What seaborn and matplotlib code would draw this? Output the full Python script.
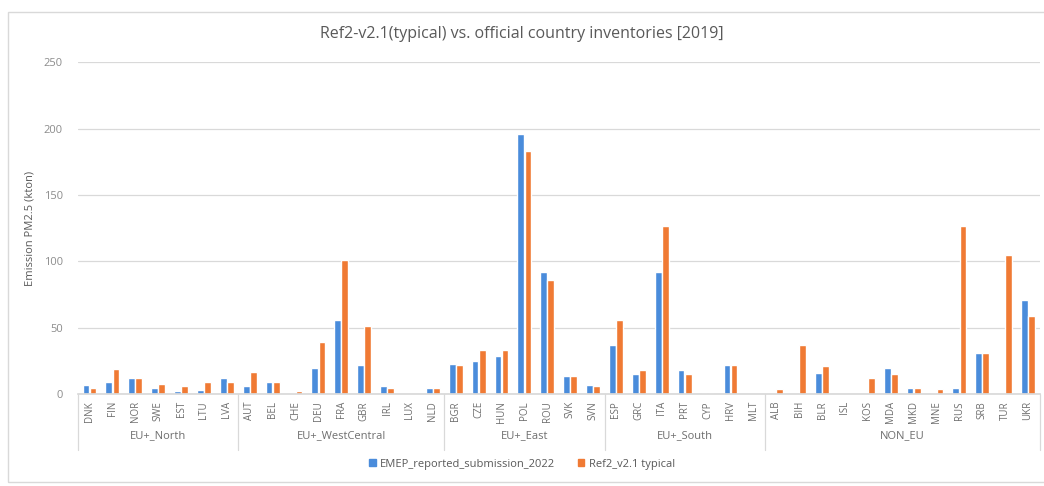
import numpy as np
import pandas as pd
import matplotlib
matplotlib.use("Agg")
import matplotlib.pyplot as plt
import matplotlib.transforms as mtransforms
from matplotlib.patches import Rectangle
import seaborn as sns

groups = ["EU+_North", "EU+_WestCentral", "EU+_East", "EU+_South", "NON_EU"]
group_countries = [
    ["DNK", "FIN", "NOR", "SWE", "EST", "LTU", "LVA"],
    ["AUT", "BEL", "CHE", "DEU", "FRA", "GBR", "IRL", "LUX", "NLD"],
    ["BGR", "CZE", "HUN", "POL", "ROU", "SVK", "SVN"],
    ["ESP", "GRC", "ITA", "PRT", "CYP", "HRV", "MLT"],
    ["ALB", "BIH", "BLR", "ISL", "KOS", "MDA", "MKD", "MNE", "RUS", "SRB", "TUR", "UKR"],
]
emep_reported = [7, 9, 12, 5, 2, 3, 12,
                 6, 9, 1, 20, 56, 22, 6, 0.3, 5,
                 23, 25, 29, 196, 92, 14, 7,
                 37, 15, 92, 18, 0.5, 22, 0.3,
                 0, 0, 16, 0.3, 0, 20, 5, 1, 5, 31, 0, 71]
ref2_typical = [5, 19, 12, 8, 6, 9, 9,
                17, 9, 2, 39, 101, 51, 5, 0.3, 5,
                22, 33, 33, 183, 86, 14, 6,
                56, 18, 127, 15, 0.5, 22, 0.3,
                4, 37, 21, 0.3, 12, 15, 5, 4, 127, 31, 105, 59]
series_names = ["EMEP_reported_submission_2022", "Ref2_v2.1 typical"]

countries = [c for g in group_countries for c in g]
df = pd.DataFrame({
    "country": countries * 2,
    "value": emep_reported + ref2_typical,
    "series": [series_names[0]] * len(countries) + [series_names[1]] * len(countries),
})

sns.set_theme(style="white")
plt.rcParams["font.family"] = ["Open Sans", "DejaVu Sans"]

fig = plt.figure(figsize=(10.44, 4.86), dpi=100)
ax = fig.add_axes([0.0747, 0.189, 0.921, 0.683])

palette = ["#4A8CDB", "#F07A34"]
sns.barplot(data=df, x="country", y="value", hue="series", order=countries,
            hue_order=series_names, palette=palette, width=0.62, gap=0.05,
            saturation=1, ax=ax, legend=False)

ax.set_ylim(0, 250)
ax.set_xlim(-0.5, len(countries) - 0.5)
ax.set_yticks([0, 50, 100, 150, 200, 250])
ax.yaxis.grid(True, color="#d9d9d9", linewidth=0.9)
ax.set_axisbelow(True)
for s in ["top", "right", "left"]:
    ax.spines[s].set_visible(False)
ax.spines["bottom"].set_color("#d9d9d9")
ax.tick_params(axis="y", length=0, labelsize=8, colors="#8c8c8c", pad=11)
ax.tick_params(axis="x", length=0, labelsize=7, colors="#6e6e6e", pad=5)
plt.setp(ax.get_xticklabels(), rotation=90)
ax.set_xlabel("")
ax.set_ylabel("Emission PM2.5 (kton)", fontsize=8, color="#595959", labelpad=6)

# group separators and labels
trans = mtransforms.blended_transform_factory(ax.transData, ax.transAxes)
start = 0
bounds = [-0.5]
for g, cl in zip(groups, group_countries):
    end = start + len(cl)
    bounds.append(end - 0.5)
    ax.text((start + end - 1) / 2, -0.124, g, transform=trans, ha="center", va="center",
            fontsize=8, color="#6e6e6e")
    start = end
for b in bounds:
    ax.plot([b, b], [0, -0.168], transform=trans,
            color="#d9d9d9", linewidth=0.9, clip_on=False)

fig.text(0.5, 0.93, "Ref2-v2.1(typical) vs. official country inventories [2019]",
         ha="center", va="center", fontsize=11.5, color="#595959")

# legend
handles = [Rectangle((0, 0), 1, 1, color=c) for c in palette]
fig.legend(handles, series_names, loc="center", bbox_to_anchor=(0.5, 0.045), ncol=2,
           frameon=False, fontsize=8, handlelength=0.6, handleheight=0.6,
           columnspacing=2.0, handletextpad=0.4, labelcolor="#595959")

# chart border
fig.patches.append(Rectangle((0.008, 0.008), 1.2, 0.968, transform=fig.transFigure,
                             fill=False, edgecolor="#d9d9d9", linewidth=1.0))

fig.savefig("out.png", dpi=100)
